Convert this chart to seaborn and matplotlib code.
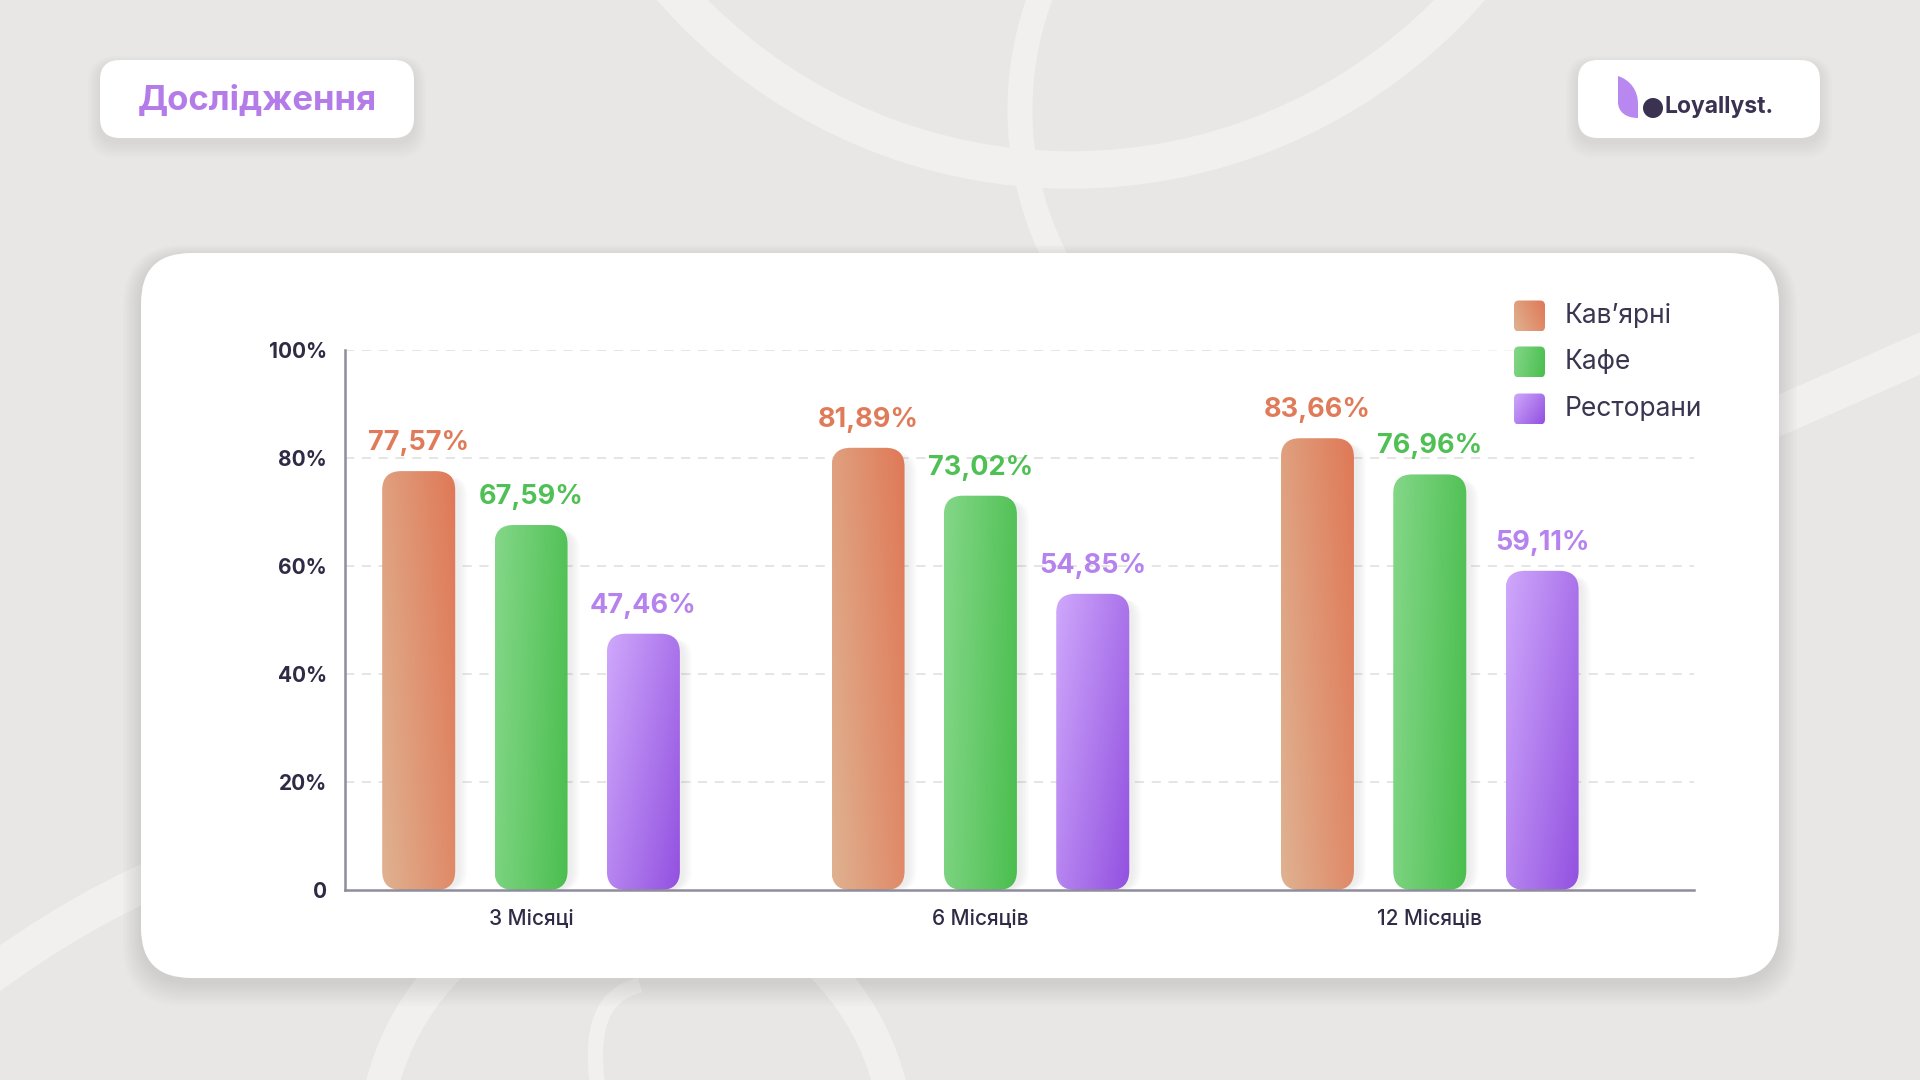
import numpy as np
import pandas as pd
import matplotlib
matplotlib.use("Agg")
import matplotlib.pyplot as plt
import seaborn as sns
from matplotlib.patches import FancyBboxPatch, Arc, PathPatch, Circle
from matplotlib.path import Path
from matplotlib.colors import to_rgb

# ---------------- data ----------------
periods = ["3 Місяці", "6 Місяців", "12 Місяців"]
segments = ["Кав’ярні", "Кафе", "Ресторани"]
coffee = [77.57, 81.89, 83.66]
cafe = [67.59, 73.02, 76.96]
restaurants = [47.46, 54.85, 59.11]
y_ticks = [0, 20, 40, 60, 80, 100]
y_tick_labels = ["0", "20%", "40%", "60%", "80%", "100%"]
title = "Дослідження"
brand = "Loyallyst."

# ---------------- style ----------------
light = {"Кав’ярні": "#dfb291", "Кафе": "#84d788", "Ресторани": "#cfa8fb"}
dark = {"Кав’ярні": "#e07856", "Кафе": "#4abe4e", "Ресторани": "#9250e0"}
label_col = {"Кав’ярні": "#e07b5a", "Кафе": "#4fc054", "Ресторани": "#b682ee"}
text_dark = "#2f2a45"
axis_col = "#8f8c9c"
bg_col = "#e8e7e5"
arc_col = "#f1f0ee"

sns.set_style("white")
plt.rcParams['font.family'] = ['Inter', 'DejaVu Sans']

df = pd.DataFrame({
    "period": periods * 3,
    "segment": [s for s in segments for _ in periods],
    "value": coffee + cafe + restaurants,
})


def gradient(seg, n=80):
    u = np.linspace(0, 1, n)[None, :]
    v = np.linspace(0, 1, n)[:, None]  # 0 = bottom (origin lower)
    if seg == "Кав’ярні":
        t = 0.7 * u + 0.3 * v
    elif seg == "Кафе":
        t = 0.85 * u + 0.15 * (1 - v)
    else:
        t = 0.6 * u + 0.4 * (1 - v)
    t = np.clip(t, 0, 1)[..., None]
    a = np.array(to_rgb(light[seg]))
    b = np.array(to_rgb(dark[seg]))
    return a * (1 - t) + b * t


fig = plt.figure(figsize=(19.2, 10.8), dpi=100)
fig.patch.set_facecolor(bg_col)

# ---------------- background layer (pixel coords) ----------------
bg = fig.add_axes([0, 0, 1, 1], zorder=0)
bg.set_xlim(0, 1920)
bg.set_ylim(1080, 0)
bg.axis("off")

bg.add_patch(Circle((1071, -360), 530, fill=False, ec=arc_col, lw=27))
bg.add_patch(Arc((1347, 110), 654, 654, theta1=150, theta2=215, ec=arc_col, lw=18))
bg.add_patch(Circle((636, 1150), 262, fill=False, ec=arc_col, lw=24))
inner = Path([(640, 985), (600, 995), (590, 1030), (598, 1090)],
             [Path.MOVETO, Path.CURVE4, Path.CURVE4, Path.CURVE4])
bg.add_patch(PathPatch(inner, fill=False, ec=arc_col, lw=11))
left_arc = Path([(-30, 990), (50, 930), (120, 890), (200, 860)],
                [Path.MOVETO, Path.CURVE4, Path.CURVE4, Path.CURVE4])
bg.add_patch(PathPatch(left_arc, fill=False, ec=arc_col, lw=27))
right_arc = Path([(1700, 450), (1780, 415), (1850, 385), (1950, 340)],
                 [Path.MOVETO, Path.CURVE4, Path.CURVE4, Path.CURVE4])
bg.add_patch(PathPatch(right_arc, fill=False, ec=arc_col, lw=28))


def card(x0, y0, x1, y1, r, shadow=8):
    for i in range(shadow, 0, -1):
        bg.add_patch(FancyBboxPatch((x0 - i * 1.5, y0 + 4 - i), x1 - x0 + i * 3, y1 - y0 + i * 3,
                                    boxstyle=f"round,pad=0,rounding_size={r + i}",
                                    fc="#8a8886", ec="none", alpha=0.02))
    bg.add_patch(FancyBboxPatch((x0, y0), x1 - x0, y1 - y0,
                                boxstyle=f"round,pad=0,rounding_size={r}",
                                fc="white", ec="none"))


card(141, 253, 1779, 978, 50, shadow=12)
card(100, 60, 414, 138, 20)
card(1578, 60, 1820, 138, 20)

bg.text(257, 101, title, ha="center", va="center", fontsize=25,
        fontweight="bold", color="#b47ce8")

leaf = Path([(1618, 76), (1618, 102), (1618, 112), (1626, 118), (1638, 118),
             (1638, 104), (1638, 90), (1630, 80), (1618, 76), (1618, 76)],
            [Path.MOVETO, Path.LINETO, Path.CURVE4, Path.CURVE4, Path.CURVE4,
             Path.LINETO, Path.CURVE4, Path.CURVE4, Path.CURVE4, Path.CLOSEPOLY])
bg.add_patch(PathPatch(leaf, fc="#b887f0", ec="none"))
bg.add_patch(Circle((1653, 108), 10, fc="#3b3150", ec="none"))
bg.text(1664, 107, brand, ha="left", va="center", fontsize=16.5,
        fontweight="bold", color="#3b3150")

# ---------------- chart ----------------
ax = fig.add_axes([345 / 1920, (1080 - 890) / 1080, (1694 - 345) / 1920, 540 / 1080], zorder=1)
ax.set_facecolor("none")

sns.barplot(data=df, x="period", y="value", hue="segment", order=periods,
            hue_order=segments, palette=dark, width=0.75, gap=0.35,
            legend=False, ax=ax)

x_lo, x_hi = -0.414, 2.588
ax.set_xlim(x_lo, x_hi)
ax.set_ylim(0, 100)

px_x = (1694 - 345) / (x_hi - x_lo)
px_y = 540 / 100
radius_px = 19
rx = radius_px / px_x
aspect = (radius_px / px_y) / rx

for seg, container in zip(segments, ax.containers):
    img = gradient(seg)
    for bar in container:
        x0, w, h = bar.get_x(), bar.get_width(), bar.get_height()
        bar.set_visible(False)
        # soft shadow
        for i in range(5, 0, -1):
            sh = FancyBboxPatch((x0 + 2 / px_x, 0), w + i * 2 / px_x, h - 1,
                                boxstyle=f"round,pad=0,rounding_size={rx}",
                                mutation_aspect=aspect, fc="#777777", ec="none",
                                alpha=0.025, zorder=1.5)
            ax.add_patch(sh)
        clip = FancyBboxPatch((x0, 0), w, h, boxstyle=f"round,pad=0,rounding_size={rx}",
                              mutation_aspect=aspect, fc="none", ec="none")
        ax.add_patch(clip)
        im = ax.imshow(img, extent=(x0, x0 + w, 0, h), origin="lower",
                       aspect="auto", interpolation="bilinear", zorder=2)
        im.set_clip_path(clip)
        ax.text(x0 + w / 2, h + 5.2, f"{h:.2f}%".replace(".", ","), ha="center",
                va="center", fontsize=19.5, fontweight="bold", color=label_col[seg],
                zorder=3)

ax.set_xlim(x_lo, x_hi)
ax.set_ylim(0, 100)

for yv in y_ticks[1:]:
    ax.axhline(yv, color="#dedede", lw=1.1, ls=(0, (6, 5)), zorder=0.5)

ax.set_yticks(y_ticks, y_tick_labels)
ax.set_xticks(range(len(periods)), periods)
ax.set_xlabel("")
ax.set_ylabel("")
ax.tick_params(axis="y", length=6, width=1.2, color=axis_col, pad=7,
               labelsize=15, labelcolor=text_dark)
ax.tick_params(axis="x", length=7, width=1, color="#6d6a78", pad=6,
               labelsize=15, labelcolor=text_dark)
for lbl in ax.get_yticklabels():
    lbl.set_fontweight("bold")
for lbl in ax.get_xticklabels():
    lbl.set_fontweight("medium")

for side in ["top", "right"]:
    ax.spines[side].set_visible(False)
for side in ["left", "bottom"]:
    ax.spines[side].set_color(axis_col)
    ax.spines[side].set_linewidth(1.8)

# ---------------- legend (pixel coords, on top) ----------------
top = fig.add_axes([0, 0, 1, 1], zorder=2)
top.set_xlim(0, 1920)
top.set_ylim(1080, 0)
top.axis("off")
top.set_facecolor("none")

fade = np.ones((2, 200, 4))
fade[..., 3] = np.clip(np.linspace(-0.2, 2.2, 200), 0, 1)[None, :]
top.imshow(fade, extent=(1380, 1740, 400, 290), aspect="auto", zorder=1)

leg_y = [316, 362, 409]
for seg, yy in zip(segments, leg_y):
    box = FancyBboxPatch((1514, yy - 15.5), 31, 31, boxstyle="round,pad=0,rounding_size=5",
                         fc="none", ec="none")
    top.add_patch(box)
    im = top.imshow(gradient(seg), extent=(1514, 1545, yy + 15.5, yy - 15.5),
                    origin="lower", aspect="auto", zorder=2)
    im.set_clip_path(box)
    top.text(1565, yy, seg, ha="left", va="center", fontsize=19, color="#3a3550", zorder=3)

top.set_xlim(0, 1920)
top.set_ylim(1080, 0)

fig.savefig("out.png", dpi=100, facecolor=bg_col)
